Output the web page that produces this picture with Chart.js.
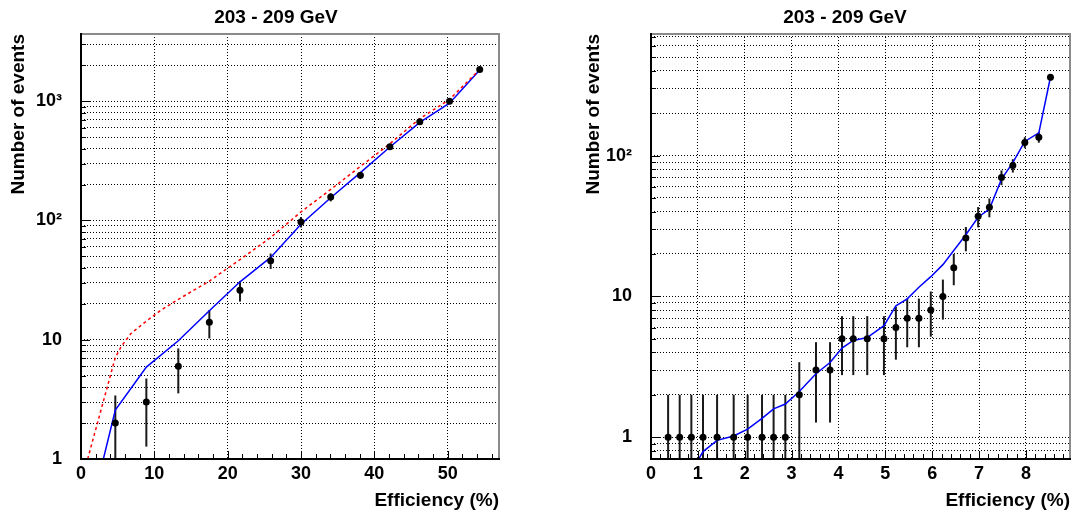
<!DOCTYPE html>
<html>
<head>
<meta charset="utf-8">
<title>203 - 209 GeV</title>
<script src="https://cdn.jsdelivr.net/npm/chart.js@4.4.1/dist/chart.umd.min.js"></script>
<style>
  body { margin: 0; background: #fff; }
  .pad { position: absolute; top: 0; width: 537px; height: 514px; }
</style>
</head>
<body>
<div class="pad" style="left:0"><canvas id="leftChart" width="537" height="514"></canvas></div>
<div class="pad" style="left:537px"><canvas id="rightChart" width="537" height="514"></canvas></div>
<script>
// Left pad: data points with sqrt(N) errors
const leftEff = [4.68, 8.91, 13.27, 17.5, 21.68, 25.86, 30.0, 34.05, 38.1, 42.12, 46.2, 50.25, 54.37];
const leftEvents = [2, 3, 6, 14, 26, 46, 97, 157, 239, 415, 672, 1000, 1845];
const leftErrors = [1.41, 1.73, 2.45, 3.74, 5.1, 6.78, 9.85, 12.5, 15.5, 20.4, 25.9, 31.6, 43];

// Left pad: blue solid curve
const leftBlueEff = [3.05, 4.68, 8.91, 13.27, 17.5, 21.68, 25.86, 30.0, 34.05, 38.1, 42.12, 46.2, 50.25, 54.37];
const leftBlue = [1, 2.57, 5.9, 9.8, 17.5, 30.6, 49, 93, 155, 252, 413, 664, 962, 1830];

// Left pad: red dashed curve
const leftRedEff = [0.91, 4.68, 5.45, 6.82, 8.91, 10.9, 13.27, 17.5, 21.68, 25.86, 30.0, 34.05, 38.1, 42.12, 46.2, 50.25, 54.37];
const leftRed = [1, 7.1, 8.7, 11.3, 14.3, 17.7, 21.8, 31, 47, 72, 118, 182, 284, 440, 715, 1035, 1845];

// Left pad: axis ticks
const leftXTicks = [0, 10, 20, 30, 40, 50];
const leftYTicks = [1, 2, 3, 4, 5, 6, 7, 8, 9, 10, 20, 30, 40, 50, 60, 70, 80, 90,
                    100, 200, 300, 400, 500, 600, 700, 800, 900, 1000, 2000, 3000];

// Right pad: data points with sqrt(N) errors
const rightEff = [0.365, 0.612, 0.861, 1.11, 1.41, 1.764, 2.062, 2.369, 2.616, 2.866, 3.164, 3.52, 3.82,
                  4.075, 4.316, 4.614, 4.97, 5.225, 5.467, 5.716, 5.97, 6.228, 6.46, 6.718, 6.98, 7.22,
                  7.478, 7.72, 7.976, 8.275, 8.523];
const rightEvents = [1, 1, 1, 1, 1, 1, 1, 1, 1, 1, 2, 3, 3, 5, 5, 5, 5, 6, 7, 7, 8, 10, 16, 26, 37, 43,
                     70, 85, 124, 135, 360];
const rightErrors = [1, 1, 1, 1, 1, 1, 1, 1, 1, 1, 1.41, 1.73, 1.73, 2.24, 2.24, 2.24, 2.24, 2.45, 2.65, 2.65,
                     2.83, 3.16, 4, 5.1, 6.08, 6.56, 8.37, 9.22, 11.1, 11.6, 19];

// Right pad: blue solid curve
const rightBlueEff = [0.861, 1.11, 1.41, 1.764, 2.062, 2.369, 2.616, 2.866, 3.164, 3.52, 3.82, 4.075, 4.316,
                      4.614, 4.97, 5.225, 5.467, 5.716, 5.97, 6.228, 6.46, 6.718, 6.98, 7.22, 7.478, 7.72,
                      7.976, 8.275, 8.523];
const rightBlue = [0.57, 0.79, 0.95, 1.02, 1.14, 1.36, 1.59, 1.72, 2.11, 2.82, 3.39, 4.29, 4.86,
                   5.1, 6.2, 8.58, 9.6, 11.6, 13.8, 16.8, 21.2, 27.4, 36.5, 41.7, 68, 89,
                   126, 145, 360];

// Right pad: axis ticks
const rightXTicks = [0, 1, 2, 3, 4, 5, 6, 7, 8];
const rightYTicks = [0.8, 0.9, 1, 2, 3, 4, 5, 6, 7, 8, 9, 10, 20, 30, 40, 50, 60, 70, 80, 90,
                     100, 200, 300, 400, 500, 600, 700];

// Labelled y ticks (others only get a grid line)
const yLabelValues = [1, 10, 100, 1000];
const yLabelTexts = ['1', '10', '10\u00b2', '10\u00b3'];

const fontFamily = '"Liberation Sans", Arial, Helvetica, sans-serif';
const tickFont = { family: fontFamily, size: 18, weight: 'bold' };
const titleFont = { family: fontFamily, size: 19, weight: 'bold' };

function pairs(xs, ys) {
    return xs.map((x, i) => ({ x: x, y: ys[i] }));
}

function yLabel(value) {
    const i = yLabelValues.indexOf(value);
    return i >= 0 ? yLabelTexts[i] : '';
}

// ROOT style frame, inner tick marks, error bars and pad title
const rootFrame = {
    id: 'rootFrame',
    beforeDatasetsDraw(chart, args, opts) {
        const ctx = chart.ctx;
        const a = chart.chartArea;
        const xs = chart.scales.x;
        const ys = chart.scales.y;
        ctx.save();
        ctx.beginPath();
        ctx.rect(a.left, a.top, a.right - a.left, a.bottom - a.top);
        ctx.clip();
        ctx.strokeStyle = '#1a1a1a';
        ctx.lineWidth = 2;
        opts.eff.forEach((x, i) => {
            const px = xs.getPixelForValue(x);
            const lo = Math.max(opts.events[i] - opts.errors[i], ys.min * 0.5);
            const hi = opts.events[i] + opts.errors[i];
            ctx.beginPath();
            ctx.moveTo(px, ys.getPixelForValue(lo));
            ctx.lineTo(px, ys.getPixelForValue(hi));
            ctx.stroke();
        });
        ctx.restore();
    },
    afterDraw(chart, args, opts) {
        const ctx = chart.ctx;
        const a = chart.chartArea;
        const xs = chart.scales.x;
        const ys = chart.scales.y;
        ctx.save();

        // tick marks inside the frame
        ctx.strokeStyle = '#000';
        ctx.lineWidth = 1;
        ctx.beginPath();
        opts.yTicks.forEach(v => {
            const py = Math.round(ys.getPixelForValue(v)) + 0.5;
            const major = Math.abs(Math.log10(v) - Math.round(Math.log10(v))) < 1e-6;
            ctx.moveTo(a.left, py);
            ctx.lineTo(a.left + (major ? 9 : 5), py);
        });
        for (let k = 0; k * opts.minorStep <= xs.max + 1e-9; k++) {
            const px = Math.round(xs.getPixelForValue(k * opts.minorStep)) + 0.5;
            const len = k % 5 === 0 ? 8 : 5;
            ctx.moveTo(px, a.bottom);
            ctx.lineTo(px, a.bottom - len);
        }
        ctx.stroke();

        // frame: grey top/right, black axes
        ctx.lineWidth = 2;
        ctx.strokeStyle = '#8a8a8a';
        ctx.beginPath();
        ctx.moveTo(a.left, a.top);
        ctx.lineTo(a.right, a.top);
        ctx.lineTo(a.right, a.bottom);
        ctx.stroke();
        ctx.strokeStyle = '#000';
        ctx.beginPath();
        ctx.moveTo(a.left, a.top - 1);
        ctx.lineTo(a.left, a.bottom);
        ctx.lineTo(a.right + 1, a.bottom);
        ctx.stroke();

        // pad title
        ctx.fillStyle = '#000';
        ctx.font = 'bold 19px ' + fontFamily;
        ctx.textAlign = 'center';
        ctx.textBaseline = 'middle';
        ctx.fillText(opts.title, opts.titleX, 18);
        ctx.restore();
    }
};

function makeScales(xMax, xTicks, yMin, yMax, yTicks, yWidth, yTitlePad) {
    return {
        x: {
            type: 'linear',
            min: 0,
            max: xMax,
            afterBuildTicks: s => { s.ticks = xTicks.map(v => ({ value: v })); },
            afterFit: s => { s.height = 55; },
            grid: { color: '#000', lineWidth: 1, drawTicks: false },
            border: { display: false, dash: [1, 2] },
            ticks: { padding: 4, autoSkip: false, maxRotation: 0, color: '#000', font: tickFont,
                     callback: v => String(v) },
            title: { display: true, text: 'Efficiency (%)', align: 'end', color: '#000', font: titleFont,
                     padding: { top: 0, bottom: 2 } }
        },
        y: {
            type: 'logarithmic',
            min: yMin,
            max: yMax,
            afterBuildTicks: s => { s.ticks = yTicks.map(v => ({ value: v })); },
            afterFit: s => { s.width = yWidth; },
            grid: { color: '#000', lineWidth: 1, drawTicks: false },
            border: { display: false, dash: [1, 2] },
            ticks: { padding: 19, autoSkip: false, color: '#000', font: tickFont, callback: v => yLabel(v) },
            title: { display: true, text: 'Number of events', align: 'end', color: '#000', font: titleFont,
                     padding: { top: yTitlePad, bottom: 0 } }
        }
    };
}

function makeChart(id, cfg) {
    const datasets = [
        { label: 'Data', data: pairs(cfg.eff, cfg.events), showLine: false,
          pointRadius: 3.5, pointBackgroundColor: '#000', pointBorderWidth: 0 }
    ];
    if (cfg.redEff) {
        datasets.push({ label: 'Red', data: pairs(cfg.redEff, cfg.red), showLine: true, pointRadius: 0,
                        borderColor: '#ff0000', borderWidth: 1.5, borderDash: [3, 3], fill: false });
    }
    datasets.push({ label: 'Blue', data: pairs(cfg.blueEff, cfg.blue), showLine: true, pointRadius: 0,
                    borderColor: '#0000ff', borderWidth: 1.5, fill: false });

    return new Chart(document.getElementById(id).getContext('2d'), {
        type: 'scatter',
        data: { datasets: datasets },
        options: {
            responsive: false,
            animation: false,
            devicePixelRatio: 1,
            layout: { padding: { left: 0, right: cfg.padRight, top: 34, bottom: 0 } },
            scales: makeScales(cfg.xMax, cfg.xTicks, cfg.yMin, cfg.yMax, cfg.yTicks, cfg.yWidth, cfg.yTitlePad),
            plugins: {
                legend: { display: false },
                tooltip: { enabled: false },
                rootFrame: { eff: cfg.eff, events: cfg.events, errors: cfg.errors, yTicks: cfg.yTicks,
                             minorStep: cfg.minorStep, title: '203 - 209 GeV', titleX: cfg.titleX }
            }
        },
        plugins: [rootFrame]
    });
}

makeChart('leftChart', {
    eff: leftEff, events: leftEvents, errors: leftErrors,
    blueEff: leftBlueEff, blue: leftBlue, redEff: leftRedEff, red: leftRed,
    xMax: 57, xTicks: leftXTicks, minorStep: 2,
    yMin: 1, yMax: 3660, yTicks: leftYTicks,
    yWidth: 81, yTitlePad: 7, padRight: 38, titleX: 276
});

makeChart('rightChart', {
    eff: rightEff, events: rightEvents, errors: rightErrors,
    blueEff: rightBlueEff, blue: rightBlue,
    xMax: 8.94, xTicks: rightXTicks, minorStep: 0.2,
    yMin: 0.7, yMax: 730, yTicks: rightYTicks,
    yWidth: 114, yTitlePad: 45, padRight: 4, titleX: 308
});
</script>
</body>
</html>
